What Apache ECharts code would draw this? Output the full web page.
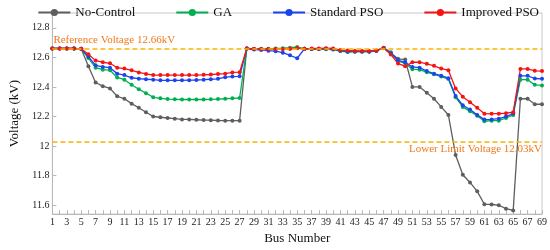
<!DOCTYPE html>
<html>
<head>
<meta charset="utf-8">
<script src="https://cdn.jsdelivr.net/npm/echarts@6/dist/echarts.min.js"></script>
<style>
html, body { margin: 0; padding: 0; background: #fff; }
#chart { width: 550px; height: 250px; }
</style>
</head>
<body>
<div id="chart"></div>
<script>
// bus numbers 1..69
var buses = [
    1, 2, 3, 4, 5, 6, 7, 8, 9, 10, 11, 12, 13, 14, 15, 16, 17, 18, 19, 20,
    21, 22, 23, 24, 25, 26, 27, 28, 29, 30, 31, 32, 33, 34, 35, 36, 37, 38, 39, 40,
    41, 42, 43, 44, 45, 46, 47, 48, 49, 50, 51, 52, 53, 54, 55, 56, 57, 58, 59, 60,
    61, 62, 63, 64, 65, 66, 67, 68, 69
]

var yTicks = [11.6, 11.8, 12, 12.2, 12.4, 12.6, 12.8]

var seriesNames = ['No-Control', 'GA', 'Standard PSO', 'Improved PSO']

var noControl = [
    12.66, 12.66, 12.66, 12.66, 12.658,
    12.54, 12.43, 12.405, 12.39, 12.337,
    12.32, 12.287, 12.259, 12.229, 12.20,
    12.195, 12.19, 12.185, 12.18, 12.18,
    12.178, 12.176, 12.175, 12.173, 12.172,
    12.172, 12.172, 12.66, 12.656, 12.656,
    12.656, 12.656, 12.657, 12.658, 12.662,
    12.658, 12.657, 12.657, 12.658, 12.655,
    12.645, 12.64, 12.64, 12.64, 12.64,
    12.645, 12.664, 12.63, 12.59, 12.585,
    12.40, 12.40, 12.36, 12.32, 12.265,
    12.21, 11.94, 11.806, 11.754, 11.694,
    11.607, 11.605, 11.60, 11.577, 11.565,
    12.32, 12.32, 12.283, 12.283
]

var ga = [
    12.66, 12.66, 12.66, 12.66, 12.658,
    12.595, 12.53, 12.517, 12.513, 12.464,
    12.449, 12.415, 12.384, 12.358, 12.33,
    12.323, 12.318, 12.316, 12.315, 12.315,
    12.315, 12.315, 12.316, 12.318, 12.32,
    12.323, 12.325, 12.66, 12.657, 12.658,
    12.658, 12.66, 12.662, 12.665, 12.67,
    12.658, 12.656, 12.656, 12.655, 12.653,
    12.643, 12.636, 12.638, 12.638, 12.638,
    12.643, 12.665, 12.635, 12.575, 12.56,
    12.52, 12.517, 12.50, 12.485, 12.47,
    12.453, 12.33, 12.265, 12.235, 12.205,
    12.168, 12.172, 12.172, 12.19, 12.211,
    12.449, 12.449, 12.414, 12.41
]

var standardPso = [
    12.66, 12.66, 12.66, 12.66, 12.658,
    12.604, 12.546, 12.535, 12.53, 12.49,
    12.48, 12.462, 12.456, 12.452, 12.449,
    12.445, 12.445, 12.445, 12.445, 12.446,
    12.447, 12.449, 12.452, 12.455, 12.466,
    12.47, 12.472, 12.66, 12.653, 12.65,
    12.645, 12.642, 12.632, 12.614, 12.594,
    12.658, 12.657, 12.657, 12.658, 12.655,
    12.645, 12.64, 12.64, 12.64, 12.64,
    12.645, 12.664, 12.63, 12.58, 12.567,
    12.535, 12.53, 12.507, 12.49, 12.476,
    12.459, 12.338, 12.276, 12.247, 12.211,
    12.179, 12.18, 12.185, 12.20, 12.22,
    12.475, 12.475, 12.457, 12.455
]

var improvedPso = [
    12.66, 12.66, 12.66, 12.66, 12.658,
    12.621, 12.578, 12.567, 12.56, 12.53,
    12.524, 12.512, 12.498, 12.488, 12.48,
    12.48, 12.48, 12.48, 12.48, 12.48,
    12.48, 12.482, 12.484, 12.487, 12.49,
    12.498, 12.50, 12.66, 12.658, 12.657,
    12.657, 12.656, 12.657, 12.658, 12.664,
    12.658, 12.66, 12.66, 12.662, 12.66,
    12.649, 12.647, 12.643, 12.643, 12.643,
    12.647, 12.664, 12.62, 12.558, 12.54,
    12.567, 12.567, 12.556, 12.543, 12.524,
    12.513, 12.39, 12.333, 12.297, 12.259,
    12.218, 12.219, 12.219, 12.222, 12.229,
    12.522, 12.522, 12.509, 12.507
]

var refVoltage = 12.66
var lowerLimit = 12.03

window.onload = function () {
    var font = '"Liberation Serif", "Times New Roman", serif'
    var colors = ['#5e5e5e', '#00b050', '#1a44ee', '#f41414']
    var values = [noControl, ga, standardPso, improvedPso]

    var series = seriesNames.map(function (name, i) {
        return {
            name: name,
            type: 'line',
            data: values[i],
            symbol: 'circle',
            symbolSize: 4,
            color: colors[i],
            lineStyle: { width: 1.3 },
            animation: false
        }
    })

    // dashed reference lines go on the first series
    series[0].markLine = {
        silent: true,
        symbol: 'none',
        animation: false,
        lineStyle: { color: '#ffb000', type: [5, 3], width: 1.6 },
        label: { fontFamily: font, fontSize: 11, color: '#f07818' },
        data: [
            {
                yAxis: refVoltage,
                label: { position: 'insideStartTop', distance: [1, 3], formatter: 'Reference Voltage 12.66kV' }
            },
            {
                yAxis: lowerLimit,
                label: { position: 'insideEndBottom', distance: [0, 2], formatter: 'Lower Limit Voltage 12.03kV' }
            }
        ]
    }

    var option = {
        textStyle: { fontFamily: font },
        legend: {
            data: seriesNames,
            top: 1,
            right: 6,
            itemGap: 40,
            itemWidth: 32,
            itemHeight: 9,
            textStyle: { fontFamily: font, fontSize: 13, color: '#111' }
        },
        grid: {
            left: 39, right: 7, top: 13, bottom: 26,
            show: true, borderColor: '#c8c8c8', borderWidth: 1
        },
        xAxis: {
            type: 'category',
            data: buses,
            boundaryGap: false,
            name: 'Bus Number',
            nameLocation: 'middle',
            nameGap: 12,
            nameTextStyle: { fontFamily: font, fontSize: 13, color: '#111', verticalAlign: 'top' },
            axisLine: { lineStyle: { color: '#b8b8b8' } },
            axisTick: { inside: true, interval: 0, length: 4, lineStyle: { color: '#b8b8b8' } },
            axisLabel: { interval: 1, margin: 3, fontFamily: font, fontSize: 10, color: '#222' },
            splitLine: { show: false }
        },
        yAxis: {
            type: 'value',
            min: 11.54,
            max: 12.9,
            name: 'Voltage (kV)',
            nameLocation: 'middle',
            nameGap: 28,
            nameTextStyle: { fontFamily: font, fontSize: 13, color: '#111' },
            axisLine: { show: true, lineStyle: { color: '#b8b8b8' } },
            axisTick: { show: true, inside: true, length: 4, customValues: yTicks, lineStyle: { color: '#b8b8b8' } },
            axisLabel: { customValues: yTicks, margin: 3, fontFamily: font, fontSize: 10, color: '#222' },
            splitLine: { show: false }
        },
        series: series
    }

    var chart = echarts.init(document.getElementById('chart'))
    chart.setOption(option)
}
</script>
</body>
</html>
